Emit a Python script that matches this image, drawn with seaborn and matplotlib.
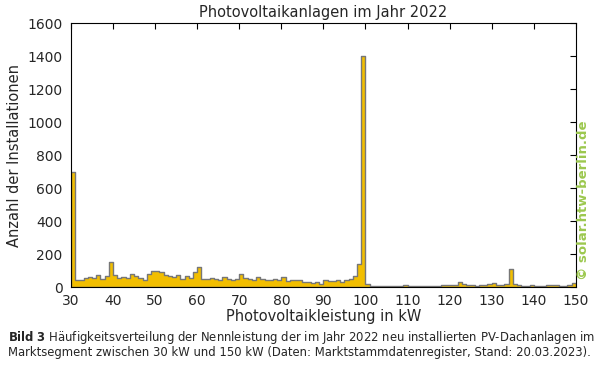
import numpy as np
import pandas as pd
import matplotlib
matplotlib.use("Agg")
import matplotlib.pyplot as plt
import seaborn as sns

# 1 kW bins, lower edges 30..149
bin_start = list(range(30, 150))
counts = [
    700, 45, 45, 55, 60, 55, 70, 50, 65, 150,
    70, 55, 60, 55, 80, 65, 55, 40, 80, 100,
    95, 90, 75, 65, 60, 75, 50, 65, 55, 90,
    120, 50, 50, 55, 50, 45, 60, 50, 45, 50,
    80, 55, 50, 45, 60, 50, 45, 40, 50, 40,
    60, 35, 45, 40, 45, 30, 30, 25, 30, 20,
    40, 35, 35, 45, 30, 40, 50, 65, 140, 1400,
    20, 5, 5, 5, 5, 5, 5, 5, 5, 10,
    5, 5, 5, 5, 5, 5, 5, 5, 15, 15,
    15, 15, 30, 20, 10, 10, 5, 15, 10, 20,
    25, 15, 15, 20, 110, 20, 10, 5, 5, 10,
    5, 5, 5, 15, 15, 10, 5, 5, 15, 25,
]
x_ticks = list(range(30, 151, 10))
y_ticks = list(range(0, 1601, 200))

df = pd.DataFrame({"kW": [b + 0.5 for b in bin_start], "n": counts})

sns.set_style("white")
plt.rcParams["font.family"] = ["DejaVu Sans"]

fig = plt.figure(figsize=(6.1, 3.7), dpi=100)
ax = fig.add_axes([0.1164, 0.2243, 0.8276, 0.7135])

sns.histplot(
    data=df, x="kW", weights="n",
    binwidth=1, binrange=(30, 150),
    element="step", fill=True,
    facecolor="#F2BE00", edgecolor="#777777",
    linewidth=1.0, alpha=1.0, ax=ax
)

ax.set_xlim(30, 150)
ax.set_ylim(0, 1600)
ax.set_xticks(x_ticks)
ax.set_yticks(y_ticks)
ax.tick_params(direction="in", top=True, right=True, length=4,
               labelsize=10, color="black", width=0.8)
ax.tick_params(axis="y", pad=6)
ax.tick_params(axis="x", pad=5)
for s in ax.spines.values():
    s.set_color("black")
    s.set_linewidth(0.8)

ax.set_title("Photovoltaikanlagen im Jahr 2022", fontsize=10.5, pad=4)
ax.set_xlabel("Photovoltaikleistung in kW", fontsize=10.5, labelpad=1)
ax.set_ylabel("Anzahl der Installationen", fontsize=10.5, labelpad=4)

fig.text(0.956, 0.46, "© solar.htw-berlin.de", rotation=90,
         color="#9CC84E", fontsize=9.5, fontweight="bold",
         ha="center", va="center")

fig.text(0.013, 0.087, r"$\bf{Bild\ 3}$ Häufigkeitsverteilung der Nennleistung der im Jahr 2022 neu installierten PV-Dachanlagen im",
         fontsize=8.4, ha="left", va="center")
fig.text(0.013, 0.046, "Marktsegment zwischen 30 kW und 150 kW (Daten: Marktstammdatenregister, Stand: 20.03.2023).",
         fontsize=8.4, ha="left", va="center")

fig.savefig("out.png", dpi=100)
